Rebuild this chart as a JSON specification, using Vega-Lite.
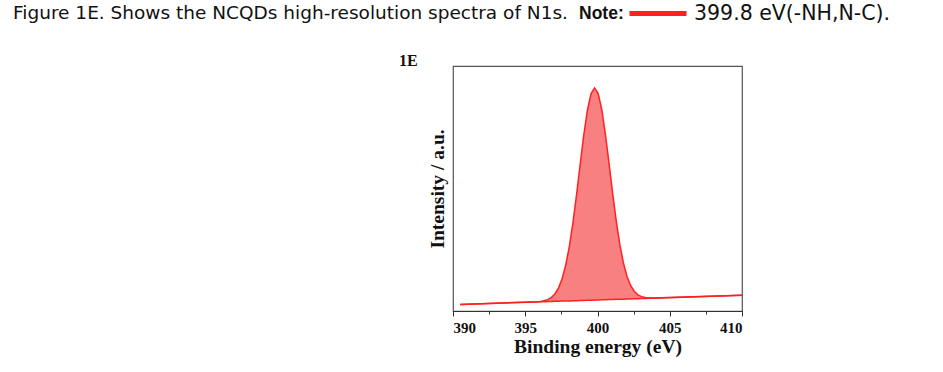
{
  "$schema": "https://vega.github.io/schema/vega-lite/v6.json",
  "background": "white",
  "padding": {"left": 13, "top": 3, "right": 5, "bottom": 5},
  "title": {
    "text": "Figure 1E. Shows the NCQDs high-resolution spectra of N1s.",
    "anchor": "start",
    "frame": "group",
    "dx": -440,
    "dy": 19,
    "offset": 0,
    "font": "DejaVu Sans",
    "fontSize": 18.5,
    "fontWeight": "normal",
    "color": "#111111"
  },
  "config": {
    "view": {"stroke": "#555555", "strokeWidth": 1.2},
    "legend": {
      "orient": "none",
      "legendX": 126,
      "legendY": -63,
      "titleOrient": "left",
      "titleAnchor": "middle",
      "titleBaseline": "middle",
      "titleFont": "Liberation Sans",
      "titleFontSize": 17.5,
      "titleFontWeight": "bold",
      "titleColor": "#111111",
      "titlePadding": 23.5,
      "labelFont": "DejaVu Sans",
      "labelFontSize": 20.5,
      "labelColor": "#111111",
      "labelLimit": 0,
      "labelOffset": 25.5,
      "symbolType": "M-3.5625,0L3.5625,0",
      "symbolSize": 256,
      "symbolStrokeWidth": 5
    }
  },
  "vconcat": [
    {
      "title": {
        "text": "1E",
        "anchor": "start",
        "frame": "group",
        "dx": -54,
        "dy": 7,
        "offset": 4,
        "font": "Liberation Serif",
        "fontSize": 16,
        "fontWeight": "bold",
        "color": "#111111"
      },
      "width": 289,
      "height": 245,
      "data": {
        "values": [
          {"x": 390.5, "base": 2.70, "total": 2.70},
          {"x": 395.8, "base": 3.71, "total": 3.78},
          {"x": 396.05, "base": 3.75, "total": 3.91},
          {"x": 396.3, "base": 3.80, "total": 4.17},
          {"x": 396.55, "base": 3.85, "total": 4.64},
          {"x": 396.8, "base": 3.90, "total": 5.48},
          {"x": 397.05, "base": 3.94, "total": 6.94},
          {"x": 397.3, "base": 3.99, "total": 9.36},
          {"x": 397.55, "base": 4.04, "total": 13.14},
          {"x": 397.8, "base": 4.08, "total": 18.68},
          {"x": 398.05, "base": 4.13, "total": 26.29},
          {"x": 398.3, "base": 4.18, "total": 36.00},
          {"x": 398.55, "base": 4.23, "total": 47.43},
          {"x": 398.8, "base": 4.27, "total": 59.76},
          {"x": 399.05, "base": 4.32, "total": 71.75},
          {"x": 399.3, "base": 4.37, "total": 81.85},
          {"x": 399.55, "base": 4.42, "total": 88.65},
          {"x": 399.8, "base": 4.46, "total": 91.06},
          {"x": 400.05, "base": 4.51, "total": 88.74},
          {"x": 400.3, "base": 4.56, "total": 82.04},
          {"x": 400.55, "base": 4.61, "total": 72.04},
          {"x": 400.8, "base": 4.65, "total": 60.14},
          {"x": 401.05, "base": 4.70, "total": 47.90},
          {"x": 401.3, "base": 4.75, "total": 36.57},
          {"x": 401.55, "base": 4.80, "total": 26.96},
          {"x": 401.8, "base": 4.84, "total": 19.44},
          {"x": 402.05, "base": 4.89, "total": 13.99},
          {"x": 402.3, "base": 4.94, "total": 10.31},
          {"x": 402.55, "base": 4.99, "total": 7.99},
          {"x": 402.8, "base": 5.03, "total": 6.61},
          {"x": 403.05, "base": 5.08, "total": 5.87},
          {"x": 403.3, "base": 5.13, "total": 5.50},
          {"x": 403.55, "base": 5.18, "total": 5.34},
          {"x": 403.8, "base": 5.22, "total": 5.29},
          {"x": 410, "base": 6.40, "total": 6.40}
        ]
      },
      "encoding": {
        "x": {
          "field": "x",
          "type": "quantitative",
          "scale": {"domain": [390, 410], "nice": false, "zero": false},
          "axis": {
            "title": "Binding energy (eV)",
            "values": [390, 392.5, 395, 397.5, 400, 402.5, 405, 407.5, 410],
            "labelExpr": "datum.value % 5 === 0 ? datum.label : ''",
            "labelFont": "Liberation Serif",
            "labelFontSize": 15,
            "labelFontWeight": "bold",
            "labelColor": "#111111",
            "labelPadding": 4.5,
            "tickSize": {"condition": {"test": "datum.value % 5 === 0", "value": 5}, "value": 3},
            "tickColor": "#333333",
            "domainColor": "#333333",
            "grid": false,
            "titleFont": "Liberation Serif",
            "titleFontSize": 19.5,
            "titleFontWeight": "bold",
            "titleColor": "#111111",
            "titlePadding": 2
          }
        },
        "y": {
          "type": "quantitative",
          "scale": {"domain": [0, 100], "nice": false},
          "axis": {
            "title": "Intensity / a.u.",
            "labels": false,
            "ticks": false,
            "domain": false,
            "grid": false,
            "titleFont": "Liberation Serif",
            "titleFontSize": 19.5,
            "titleFontWeight": "bold",
            "titleColor": "#111111",
            "titlePadding": 6
          }
        }
      },
      "layer": [
        {
          "mark": {"type": "area", "color": "#f98080", "opacity": 1},
          "encoding": {
            "y": {"field": "total"},
            "y2": {"field": "base"}
          }
        },
        {
          "mark": {"type": "line", "color": "#ff2020", "strokeWidth": 1.5},
          "encoding": {
            "y": {"field": "base"}
          }
        },
        {
          "mark": {"type": "line", "strokeWidth": 1.5},
          "encoding": {
            "y": {"field": "total"},
            "color": {
              "datum": "399.8 eV(-NH,N-C).",
              "type": "nominal",
              "scale": {"range": ["#ff2020"]},
              "legend": {"title": "Note:"}
            }
          }
        }
      ]
    }
  ]
}
